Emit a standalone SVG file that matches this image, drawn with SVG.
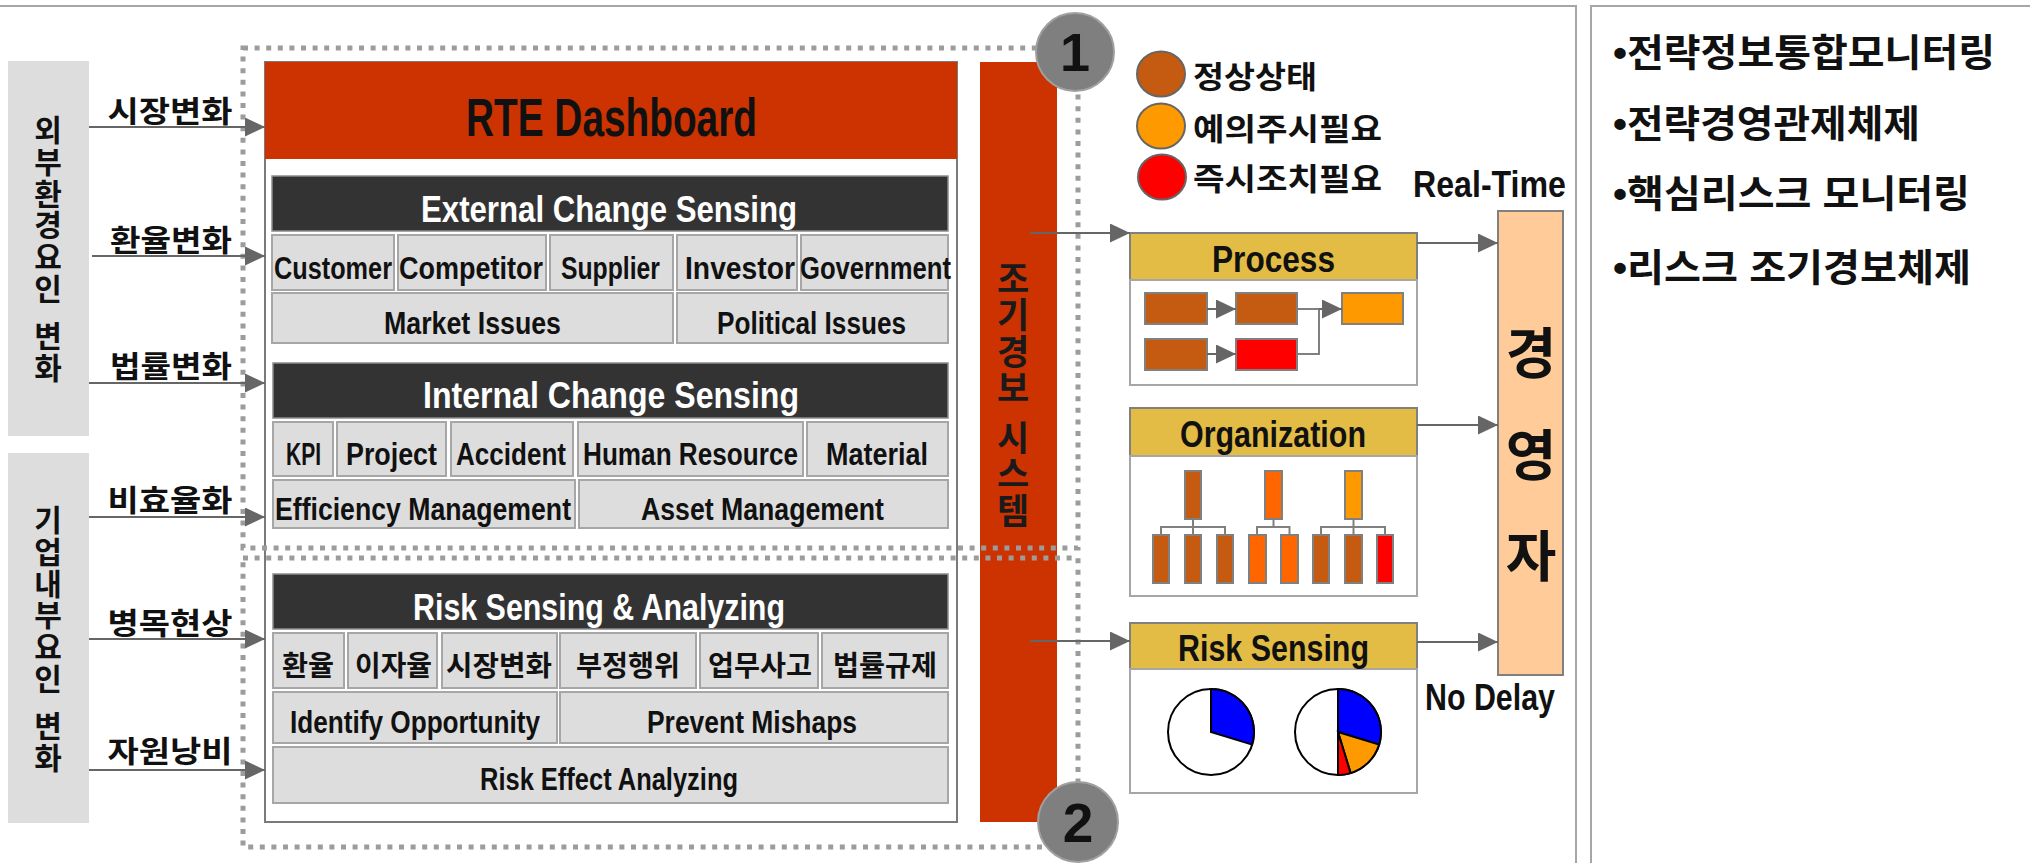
<svg xmlns="http://www.w3.org/2000/svg" width="2030" height="863" viewBox="0 0 2030 863">
<style>
.lat{font-family:"Liberation Sans",Arial,sans-serif;font-weight:bold;fill:#111}
.kr{font-family:"Noto Sans CJK KR","Liberation Sans",sans-serif;font-weight:bold;fill:#111}
.mix{font-family:"Liberation Sans","Noto Sans CJK KR",sans-serif;font-weight:bold;fill:#111}
.cell{fill:#DDDDDD;stroke:#A6A6A6;stroke-width:2}
.bar{fill:#333333;stroke:#8C8C8C;stroke-width:1.5}
.ttl{font-size:36px;fill:#fff;text-anchor:middle}
.cl{font-size:31px;text-anchor:middle}
.ck{font-size:28px;text-anchor:middle}
.side{fill:#DDDDDD}
.vt{font-size:30px;writing-mode:vertical-rl;letter-spacing:1.7px}
.vr{font-size:35px;writing-mode:vertical-rl;letter-spacing:1.5px;fill:#1a1a1a}
.arr{stroke:#666;stroke-width:2;fill:none;marker-end:url(#ah)}
.ln{stroke:#808080;stroke-width:2;fill:none}
.dot{fill:none;stroke:#9C9C9C;stroke-width:5;stroke-dasharray:5 6.6}
.hdr{fill:#E2BC45;stroke:#808080;stroke-width:2}
.body{fill:#fff;stroke:#A6A6A6;stroke-width:2}
.mb{stroke:#808080;stroke-width:2}
.br{fill:#C55A11}.or{fill:#FF9900}.rd{fill:#FF0000}.oo{fill:#FF6600}
.pie{stroke:#000;stroke-width:2}
.lbl{font-size:30px;text-anchor:middle}
</style>
<defs>
<marker id="ah" viewBox="0 0 10 10" refX="10" refY="5" markerWidth="20" markerHeight="19" markerUnits="userSpaceOnUse" orient="auto" preserveAspectRatio="none"><path d="M0,0L10,5L0,10z" fill="#666"/></marker>
</defs>
<rect width="2030" height="863" fill="#fff"/>
<g id="panels" fill="none" stroke="#A6A6A6" stroke-width="2">
<path d="M0,6H1576V863"/>
<path d="M2031,6H1591V863"/>
</g>

<g id="external-factors">
<rect class="side" x="8" y="61" width="81" height="375"/>
<text class="kr vt" x="48" y="115">외부환경요인</text>
<text class="kr vt" x="48" y="321">변화</text>
</g>
<g id="internal-factors">
<rect class="side" x="8" y="453" width="81" height="370"/>
<text class="kr vt" x="48" y="505">기업내부요인</text>
<text class="kr vt" x="48" y="711">변화</text>
</g>

<g id="dashboard">
<rect x="265" y="62" width="692" height="760" fill="#fff" stroke="#7A7A7A" stroke-width="2"/>
<rect x="265" y="62" width="692" height="97" fill="#CC3300"/>
<text class="lat" x="611.5" y="136" font-size="54" text-anchor="middle" textLength="291" lengthAdjust="spacingAndGlyphs" fill="#1a1a1a">RTE Dashboard</text>
</g>

<g id="external-sensing">
<rect class="bar" x="272" y="176" width="676" height="55"/>
<text class="lat ttl" x="609" y="222" textLength="376" lengthAdjust="spacingAndGlyphs">External Change Sensing</text>
<rect class="cell" x="272" y="235" width="122" height="55"/>
<rect class="cell" x="398" y="235" width="148" height="55"/>
<rect class="cell" x="550" y="235" width="123" height="55"/>
<rect class="cell" x="677" y="235" width="120" height="55"/>
<rect class="cell" x="801" y="235" width="147" height="55"/>
<rect class="cell" x="272" y="293" width="401" height="50"/>
<rect class="cell" x="677" y="293" width="271" height="50"/>
<text class="lat cl" x="333" y="279" textLength="118" lengthAdjust="spacingAndGlyphs">Customer</text>
<text class="lat cl" x="471" y="279" textLength="144" lengthAdjust="spacingAndGlyphs">Competitor</text>
<text class="lat cl" x="610.5" y="279" textLength="99" lengthAdjust="spacingAndGlyphs">Supplier</text>
<text class="lat cl" x="740" y="279" textLength="110" lengthAdjust="spacingAndGlyphs">Investor</text>
<text class="lat cl" x="875.5" y="279" textLength="151" lengthAdjust="spacingAndGlyphs">Government</text>
<text class="lat cl" x="472.5" y="334" textLength="177" lengthAdjust="spacingAndGlyphs">Market Issues</text>
<text class="lat cl" x="811.5" y="334" textLength="189" lengthAdjust="spacingAndGlyphs">Political Issues</text>
</g>

<g id="internal-sensing">
<rect class="bar" x="273" y="363" width="675" height="55"/>
<text class="lat ttl" x="611" y="408" textLength="376" lengthAdjust="spacingAndGlyphs">Internal Change Sensing</text>
<rect class="cell" x="273" y="422" width="60" height="54"/>
<rect class="cell" x="337" y="422" width="109" height="54"/>
<rect class="cell" x="451" y="422" width="122" height="54"/>
<rect class="cell" x="578" y="422" width="225" height="54"/>
<rect class="cell" x="807" y="422" width="141" height="54"/>
<rect class="cell" x="273" y="480" width="302" height="48"/>
<rect class="cell" x="579" y="480" width="369" height="48"/>
<text class="lat cl" x="303.5" y="465" textLength="35" lengthAdjust="spacingAndGlyphs">KPI</text>
<text class="lat cl" x="391.5" y="465" textLength="91" lengthAdjust="spacingAndGlyphs">Project</text>
<text class="lat cl" x="511" y="465" textLength="110" lengthAdjust="spacingAndGlyphs">Accident</text>
<text class="lat cl" x="690.5" y="465" textLength="215" lengthAdjust="spacingAndGlyphs">Human Resource</text>
<text class="lat cl" x="877" y="465" textLength="102" lengthAdjust="spacingAndGlyphs">Material</text>
<text class="lat cl" x="423" y="520" textLength="296" lengthAdjust="spacingAndGlyphs">Efficiency Management</text>
<text class="lat cl" x="762.5" y="520" textLength="243" lengthAdjust="spacingAndGlyphs">Asset Management</text>
</g>

<g id="risk-sensing">
<rect class="bar" x="273" y="574" width="675" height="55"/>
<text class="lat ttl" x="599" y="620" textLength="372" lengthAdjust="spacingAndGlyphs">Risk Sensing &amp; Analyzing</text>
<rect class="cell" x="273" y="633" width="71" height="55"/>
<rect class="cell" x="348" y="633" width="89" height="55"/>
<rect class="cell" x="442" y="633" width="115" height="55"/>
<rect class="cell" x="560" y="633" width="136" height="55"/>
<rect class="cell" x="700" y="633" width="118" height="55"/>
<rect class="cell" x="822" y="633" width="126" height="55"/>
<rect class="cell" x="273" y="692" width="284" height="51"/>
<rect class="cell" x="560" y="692" width="388" height="51"/>
<rect class="cell" x="273" y="747" width="675" height="56"/>
<text class="kr ck" x="308" y="676" textLength="52" lengthAdjust="spacingAndGlyphs">환율</text>
<text class="kr ck" x="393.5" y="676" textLength="77" lengthAdjust="spacingAndGlyphs">이자율</text>
<text class="kr ck" x="499" y="676" textLength="106" lengthAdjust="spacingAndGlyphs">시장변화</text>
<text class="kr ck" x="628" y="676" textLength="104" lengthAdjust="spacingAndGlyphs">부정행위</text>
<text class="kr ck" x="760" y="676" textLength="104" lengthAdjust="spacingAndGlyphs">업무사고</text>
<text class="kr ck" x="885" y="676" textLength="104" lengthAdjust="spacingAndGlyphs">법률규제</text>
<text class="lat cl" x="415" y="733" textLength="250" lengthAdjust="spacingAndGlyphs">Identify Opportunity</text>
<text class="lat cl" x="752" y="733" textLength="210" lengthAdjust="spacingAndGlyphs">Prevent Mishaps</text>
<text class="lat cl" x="609" y="790" textLength="258" lengthAdjust="spacingAndGlyphs">Risk Effect Analyzing</text>
</g>

<g id="early-warning">
<rect x="980" y="62" width="77" height="760" fill="#CC3300"/>
<text class="kr vr" x="1013" y="261">조기경보</text>
<text class="kr vr" x="1013" y="420">시스템</text>
</g>

<g id="dotted-frames">
<rect class="dot" x="243" y="48" width="835" height="500"/>
<rect class="dot" x="243" y="558" width="835" height="289"/>
</g>
<g id="badge-1">
<circle cx="1075" cy="52" r="39" fill="#7F7F7F" stroke="#A0A0A0" stroke-width="2"/>
<text class="lat" x="1075" y="71" font-size="54" text-anchor="middle">1</text>
</g>
<g id="badge-2">
<circle cx="1078" cy="822" r="40" fill="#7F7F7F" stroke="#A0A0A0" stroke-width="2"/>
<text class="lat" x="1078" y="842" font-size="55" text-anchor="middle">2</text>
</g>

<g id="legend">
<ellipse cx="1161" cy="74" rx="24" ry="22.5" class="br" stroke="#666" stroke-width="2"/>
<ellipse cx="1161" cy="126" rx="24" ry="22.5" class="or" stroke="#666" stroke-width="2"/>
<ellipse cx="1162" cy="177" rx="24" ry="22.5" class="rd" stroke="#666" stroke-width="2"/>
<text class="kr" x="1193" y="88" font-size="31" textLength="124" lengthAdjust="spacingAndGlyphs">정상상태</text>
<text class="kr" x="1193" y="140" font-size="31" textLength="189" lengthAdjust="spacingAndGlyphs">예의주시필요</text>
<text class="kr" x="1193" y="190" font-size="31" textLength="189" lengthAdjust="spacingAndGlyphs">즉시조치필요</text>
</g>

<g id="process">
<rect class="hdr" x="1130" y="233" width="287" height="47"/>
<rect class="body" x="1130" y="280" width="287" height="105"/>
<text class="lat" x="1273.5" y="272" font-size="36" text-anchor="middle" textLength="123" lengthAdjust="spacingAndGlyphs">Process</text>
<rect class="br mb" x="1145" y="293" width="62" height="31"/>
<rect class="br mb" x="1236" y="293" width="61" height="31"/>
<rect class="or mb" x="1342" y="293" width="61" height="31"/>
<rect class="br mb" x="1145" y="339" width="62" height="31"/>
<rect class="rd mb" x="1236" y="339" width="61" height="31"/>
</g>

<g id="organization">
<rect class="hdr" x="1130" y="408" width="287" height="48"/>
<rect class="body" x="1130" y="456" width="287" height="140"/>
<text class="lat" x="1273" y="447" font-size="36" text-anchor="middle" textLength="186" lengthAdjust="spacingAndGlyphs">Organization</text>
<rect class="br mb" x="1185" y="471" width="16" height="48"/>
<rect class="oo mb" x="1265" y="471" width="17" height="48"/>
<rect class="or mb" x="1345" y="471" width="17" height="48"/>
<rect class="br mb" x="1153" y="535" width="16" height="48"/>
<rect class="br mb" x="1185" y="535" width="16" height="48"/>
<rect class="br mb" x="1217" y="535" width="16" height="48"/>
<rect class="oo mb" x="1249" y="535" width="17" height="48"/>
<rect class="oo mb" x="1281" y="535" width="17" height="48"/>
<rect class="br mb" x="1313" y="535" width="16" height="48"/>
<rect class="br mb" x="1345" y="535" width="17" height="48"/>
<rect class="rd mb" x="1377" y="535" width="16" height="48"/>
</g>

<g id="risk-panel">
<rect class="hdr" x="1130" y="623" width="287" height="46"/>
<rect class="body" x="1130" y="669" width="287" height="124"/>
<text class="lat" x="1273.5" y="661" font-size="36" text-anchor="middle" textLength="191" lengthAdjust="spacingAndGlyphs">Risk Sensing</text>
<circle class="pie" cx="1211" cy="732" r="43" fill="#fff"/>
<path class="pie" d="M1211,732V689A43,43 0 0 1 1252.1,744.6Z" fill="#0000FF"/>
<circle class="pie" cx="1338" cy="732" r="43" fill="#fff"/>
<path class="pie" d="M1338,732V689A43,43 0 0 1 1379.1,744.6Z" fill="#0000FF"/>
<path class="pie" d="M1338,732L1379.1,744.6A43,43 0 0 1 1350.6,773.1Z" fill="#FF9900"/>
<path class="pie" d="M1338,732L1350.6,773.1A43,43 0 0 1 1338,775Z" fill="#FF0000"/>
</g>

<g id="ceo">
<rect x="1498" y="211" width="65" height="464" fill="#FFCC99" stroke="#808080" stroke-width="2"/>
<text class="kr" font-size="55" text-anchor="middle" x="1531" y="373">경</text>
<text class="kr" font-size="55" text-anchor="middle" x="1531" y="475">영</text>
<text class="kr" font-size="55" text-anchor="middle" x="1531" y="576">자</text>
</g>

<g id="annotations">
<text class="lat" x="1413" y="197" font-size="37" textLength="153" lengthAdjust="spacingAndGlyphs">Real-Time</text>
<text class="lat" x="1425" y="710" font-size="37" textLength="130" lengthAdjust="spacingAndGlyphs">No Delay</text>
</g>

<g id="summary">
<text class="mix" x="1613" y="66" font-size="38" textLength="382" lengthAdjust="spacingAndGlyphs">•전략정보통합모니터링</text>
<text class="mix" x="1613" y="137" font-size="38" textLength="307" lengthAdjust="spacingAndGlyphs">•전략경영관제체제</text>
<text class="mix" x="1613" y="207" font-size="38" textLength="357" lengthAdjust="spacingAndGlyphs">•핵심리스크 모니터링</text>
<text class="mix" x="1613" y="281" font-size="38" textLength="358" lengthAdjust="spacingAndGlyphs">•리스크 조기경보체제</text>
</g>

<g id="connectors">
<path class="arr" d="M89,127H265"/>
<path class="arr" d="M92,256H265"/>
<path class="arr" d="M89,383H265"/>
<path class="arr" d="M89,517H265"/>
<path class="arr" d="M89,639H265"/>
<path class="arr" d="M89,770H265"/>
<path class="arr" d="M1030,233H1130"/>
<path class="arr" d="M1030,641H1130"/>
<path class="arr" d="M1417,243H1498"/>
<path class="arr" d="M1417,425H1498"/>
<path class="arr" d="M1417,642H1498"/>
<path class="arr" d="M1207,309H1236"/>
<path class="arr" d="M1207,354H1236"/>
<path class="ln" d="M1297,309H1319"/>
<path class="ln" d="M1297,354H1319V309"/>
<path class="arr" d="M1319,309H1342"/>
<path class="ln" d="M1193,519V527M1161,535V527H1225V535M1193,527V535"/>
<path class="ln" d="M1273.5,519V527M1257,535V527H1289.5V535"/>
<path class="ln" d="M1353.5,519V527M1321,535V527H1385V535M1353.5,527V535"/>
</g>
<g id="arrow-labels">
<text class="kr lbl" x="170" y="122" textLength="125" lengthAdjust="spacingAndGlyphs">시장변화</text>
<text class="kr lbl" x="171" y="251" textLength="122" lengthAdjust="spacingAndGlyphs">환율변화</text>
<text class="kr lbl" x="171" y="377" textLength="122" lengthAdjust="spacingAndGlyphs">법률변화</text>
<text class="kr lbl" x="170" y="511" textLength="125" lengthAdjust="spacingAndGlyphs">비효율화</text>
<text class="kr lbl" x="170" y="634" textLength="125" lengthAdjust="spacingAndGlyphs">병목현상</text>
<text class="kr lbl" x="170" y="762" textLength="125" lengthAdjust="spacingAndGlyphs">자원낭비</text>
</g>
</svg>
